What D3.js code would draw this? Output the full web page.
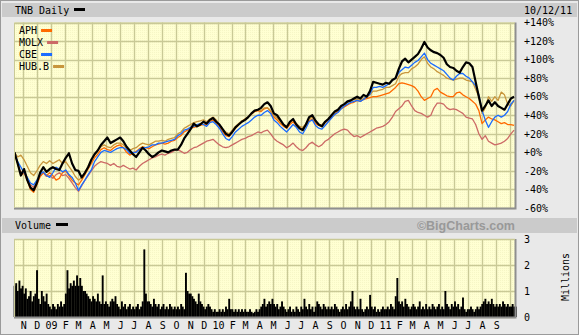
<!DOCTYPE html>
<html><head><meta charset="utf-8">
<script src="https://cdn.jsdelivr.net/npm/d3@7/dist/d3.min.js"></script>
<style>
body{margin:0;background:#fff}
svg{display:block}
text{font-family:"DejaVu Sans Mono",monospace;font-size:10px;fill:#000}
</style>
</head><body>
<svg id="chart" width="579" height="335"></svg>
<script>
// ---------------- DATA ----------------
const legendNames = ["APH", "MOLX", "CBE", "HUB.B"];
const mainName = "TNB Daily";
const dateLabel = "10/12/11";
const percentTicks = [140, 120, 100, 80, 60, 40, 20, 0, -20, -40, -60];
const volumeTicks = [0, 1, 2, 3];

// weekly % change since 10/12/08 (one value per week, first week 10/13/08)
const tnb = [
  0,-12,-25,-18,-30,-38,-41,-33,-22,-16,
  -21,-18,-16,-18,-19,-12,-6,-1,-12,-19,
  -20,-27,-22,-16,-8,-2,2,8,12,16,
  10,12,14,16,12,6,2,-2,-5,0,
  5,2,-2,-5,-3,0,2,1,0,2,
  3,3,8,15,20,25,31,28,30,33,
  31,35,37,33,30,25,20,18,22,27,
  30,33,35,38,42,45,46,48,52,54,
  50,42,40,35,30,27,33,36,30,26,
  24,30,38,40,34,30,28,33,36,40,
  44,46,50,52,55,56,58,60,58,62,
  60,66,76,75,74,73,75,74,78,80,
  90,98,101,97,100,103,106,112,119,113,
  110,108,107,105,102,95,92,91,88,86,
  92,97,96,92,76,60,45,50,56,50,
  54,50,48,46,52,58,60
];
const aph = [
  0,-12,-25,-22,-30,-40,-43,-35,-26,-22,
  -25,-22,-25,-30,-28,-22,-20,-25,-30,-33,
  -35,-30,-24,-18,-12,-6,-2,3,5,3,
  2,5,7,8,5,0,-3,-1,1,4,
  6,5,4,6,8,9,10,9,10,12,
  13,16,18,22,24,26,27,28,29,30,
  30,33,35,32,28,22,18,17,22,26,
  30,33,36,38,41,44,45,44,47,48,
  44,38,35,31,28,26,30,33,29,26,
  25,29,34,36,31,29,28,32,35,38,
  41,44,47,49,51,53,54,56,55,57,
  58,59,60,60,61,62,63,64,67,70,
  74,75,74,73,72,70,66,60,56,58,
  60,67,69,65,63,61,60,60,64,65,
  62,60,58,55,52,45,31,35,38,36,
  35,33,31,32,30,30,29
];
const molx = [
  0,-12,-22,-20,-28,-35,-38,-32,-26,-22,
  -26,-25,-28,-24,-22,-25,-24,-28,-33,-38,
  -42,-36,-30,-25,-20,-15,-12,-10,-11,-12,
  -14,-12,-15,-16,-14,-16,-18,-17,-19,-15,
  -12,-10,-8,-6,-5,-3,-2,-3,-1,0,
  2,3,1,-1,0,3,5,6,8,10,
  12,13,14,11,8,6,5,6,8,10,
  12,14,15,17,18,20,22,21,23,24,
  20,15,12,10,8,5,7,10,6,3,
  2,5,9,11,8,6,8,12,14,17,
  20,22,24,25,24,20,17,18,16,18,
  20,22,24,26,27,28,30,33,38,44,
  47,50,55,56,50,45,43,42,40,38,
  40,48,53,53,52,48,46,47,46,44,
  42,38,37,36,30,20,14,18,12,10,
  8,9,10,12,15,20,24
];
const cbe = [
  0,-10,-16,-22,-27,-33,-35,-30,-24,-21,
  -25,-27,-22,-16,-18,-21,-19,-24,-27,-33,
  -41,-35,-30,-24,-19,-10,-5,0,2,1,
  0,2,4,5,5,3,-1,0,0,3,
  5,5,6,8,8,10,10,11,12,13,
  14,18,20,24,25,27,28,30,31,30,
  28,32,33,30,26,20,15,13,17,22,
  25,28,30,32,35,38,40,40,43,45,
  42,35,32,28,25,22,26,30,27,22,
  20,26,33,35,29,26,25,29,33,37,
  41,43,47,50,52,54,55,56,55,57,
  60,63,70,70,71,70,72,74,78,80,
  86,89,92,91,94,97,99,103,107,100,
  96,94,92,90,88,84,80,78,82,85,
  85,82,80,76,72,62,45,35,27,33,
  38,40,38,40,44,52,56
];
const hubb = [
  0,-5,-3,-8,-15,-22,-25,-20,-14,-10,
  -12,-9,-12,-10,-8,-12,-10,-15,-20,-26,
  -30,-27,-22,-15,-8,-3,2,6,8,6,
  5,8,10,10,8,4,2,4,5,8,
  10,9,8,10,12,12,13,12,14,15,
  16,20,22,26,28,30,32,33,34,35,
  33,36,38,35,30,25,22,20,24,28,
  31,34,36,38,42,45,46,45,48,48,
  45,40,37,33,30,28,32,35,31,28,
  27,31,36,38,33,30,30,33,36,40,
  43,46,49,52,54,55,57,57,56,58,
  60,62,66,66,67,68,70,70,72,74,
  82,85,86,86,90,92,95,100,103,96,
  92,90,87,85,83,80,79,78,79,80,
  80,78,77,76,68,60,42,48,60,55,
  60,56,65,62,52,50,56
];
// TNB volume, millions (two values per week)
const volume = [
  1.2,1.3,1.0,1.4,1.1,1.2,
  0.9,1.1,0.7,0.8,1.0,0.6,0.8,0.9,
  1.8,0.7,0.5,1.0,0.8,0.6,0.9,0.5,0.4,
  0.3,0.5,0.4,0.3,0.5,0.4,0.6,0.4,0.5,
  0.9,1.8,1.1,1.3,1.2,1.4,1.2,1.6,
  1.2,1.5,1.2,1.0,1.0,0.9,0.8,0.7,0.6,
  0.8,0.7,0.6,0.9,0.6,0.5,1.6,0.5,0.6,
  0.5,0.4,0.6,0.7,0.6,0.8,0.5,0.4,
  0.3,0.6,0.4,0.5,0.3,0.4,0.5,0.3,0.4,
  0.3,0.4,0.5,0.3,0.4,0.6,2.6,0.9,0.6,
  0.6,0.5,0.4,0.7,0.5,0.4,0.5,0.3,0.4,
  0.5,0.3,0.4,0.3,0.5,0.4,0.3,0.4,
  0.3,0.4,0.3,0.5,0.4,0.3,1.7,1.0,0.9,
  0.9,0.8,0.7,0.6,0.5,0.9,0.6,0.5,0.4,
  0.3,0.4,0.5,0.4,0.3,0.2,0.3,0.2,
  0.2,0.3,0.2,0.3,0.2,0.4,0.3,0.7,0.3,
  0.3,0.2,0.3,0.2,0.3,0.2,0.3,0.2,
  0.3,0.2,0.2,0.3,0.2,0.15,0.2,0.3,0.2,
  0.3,0.4,0.5,0.7,0.4,0.5,0.6,0.5,0.7,
  0.5,0.4,0.5,0.3,0.4,0.6,0.4,0.3,0.2,
  0.3,0.4,0.2,0.3,0.2,0.4,0.3,0.2,
  0.4,0.3,0.7,0.4,0.3,0.5,0.3,0.4,0.2,
  0.4,0.6,0.5,0.4,0.3,0.5,0.4,0.3,0.4,
  0.3,0.4,0.3,0.5,0.4,0.3,0.2,0.3,
  0.4,0.3,0.5,0.3,0.4,0.6,1.0,0.4,0.3,
  0.4,0.3,0.7,0.3,0.2,0.3,0.4,0.3,0.85,
  0.4,0.3,0.4,0.2,0.3,0.2,0.3,0.4,0.3,
  0.3,0.4,0.3,0.5,0.4,0.3,0.8,1.5,0.6,
  0.5,0.6,0.4,0.7,0.5,0.4,0.3,0.4,
  0.5,0.4,0.3,0.4,0.6,0.3,0.4,0.3,0.5,
  0.3,0.4,0.3,0.5,0.4,0.3,0.4,0.5,0.3,
  0.4,0.3,1.0,0.5,0.4,0.3,0.5,0.4,
  0.6,0.4,0.5,0.3,0.4,0.75,0.3,0.2,0.3,
  0.3,0.4,0.3,0.2,0.3,0.4,0.3,0.4,0.5,
  0.6,0.7,0.5,0.6,0.5,0.7,0.5,0.4,0.5,
  0.4,0.5,0.4,0.6,0.5,0.4,0.5,0.4,0.4,
  0.5,0.4,0.4
];

// ---------------- STYLE ----------------
const colorOf = {"APH":"#ff6a00","MOLX":"#cc6a66","CBE":"#1a6cff","HUB.B":"#c8963c","TNB":"#000"};
const seriesOf = {"APH":aph,"MOLX":molx,"CBE":cbe,"HUB.B":hubb,"TNB":tnb};
const drawOrder = ["MOLX","APH","HUB.B","CBE","TNB"];
const gridColor = "#c9c996";

const svg = d3.select("#chart");
const W = 579, H = 335;
const P = {l:14, r:515, t:22.5, b:208};      // price panel
const V = {l:14, r:515, t:239, b:317};       // volume panel

const startDate = new Date(2008, 9, 12), endDate = new Date(2011, 9, 12);
const x = d3.scaleTime().domain([startDate, endDate]).range([P.l, P.r]);
const y = d3.scaleLinear().domain([-60, 140]).range([P.b, P.t]);
const yv = d3.scaleLinear().domain([0, 3]).range([V.b, V.t]);

const weekStart = new Date(2008, 9, 13);
const weekDate = i => d3.timeDay.offset(weekStart, 7 * i);
const volDate = j => new Date(weekStart.getTime() + j * 3.5 * 864e5);

// page background
svg.append("rect").attr("x",0.5).attr("y",0.5).attr("width",W-1).attr("height",H-1)
  .attr("fill","#e9e9e9").attr("stroke","#9a9a9a");
// header bars
svg.append("rect").attr("x",2).attr("y",3).attr("width",W-4).attr("height",14).attr("fill","#cbcbcb");
svg.append("rect").attr("x",2).attr("y",218).attr("width",W-4).attr("height",15).attr("fill","#cbcbcb");

// pattern
const defs = svg.append("defs");
const pat = defs.append("pattern").attr("id","dots").attr("width",2).attr("height",2).attr("patternUnits","userSpaceOnUse");
pat.append("rect").attr("width",2).attr("height",2).attr("fill","#ffffd2");
pat.append("rect").attr("width",1).attr("height",1).attr("fill","#f6f6c6");
defs.append("clipPath").attr("id","clipP").append("rect")
  .attr("x",P.l).attr("y",P.t-1).attr("width",P.r-P.l).attr("height",P.b-P.t+2);

function panel(b){
  svg.append("rect").attr("x",b.l).attr("y",b.t).attr("width",b.r-b.l).attr("height",b.b-b.t)
    .attr("fill","url(#dots)");
}
panel(P); panel(V);

const monthGrid = d3.timeMonth.range(new Date(2008,10,1), new Date(2011,9,2));
const monthLabels = d3.timeMonth.range(new Date(2008,10,1), new Date(2011,8,2));

// vertical grid
[P, V].forEach(b => {
  svg.append("g").selectAll("line").data(monthGrid).join("line")
    .attr("x1",d=>Math.round(x(d))+0.5).attr("x2",d=>Math.round(x(d))+0.5)
    .attr("y1",b.t).attr("y2",b.b).attr("stroke",gridColor).attr("stroke-width",1.4);
});
// horizontal grid
svg.append("g").selectAll("line").data(percentTicks).join("line")
  .attr("x1",P.l).attr("x2",P.r).attr("y1",d=>Math.round(y(d))+0.5).attr("y2",d=>Math.round(y(d))+0.5)
  .attr("stroke",gridColor).attr("stroke-width",1.4);
svg.append("g").selectAll("line").data(volumeTicks).join("line")
  .attr("x1",V.l).attr("x2",V.r).attr("y1",d=>Math.round(yv(d))+0.5).attr("y2",d=>Math.round(yv(d))+0.5)
  .attr("stroke",gridColor).attr("stroke-width",1.4);

// volume bars
const bw = x(volDate(1)) - x(volDate(0));
svg.append("g").selectAll("rect").data(volume).join("rect")
  .attr("x",(d,j)=>x(volDate(j)) - bw/2)
  .attr("width",bw+0.3)
  .attr("y",d=>yv(d)).attr("height",d=>yv(0)-yv(d)).attr("fill","#000");

// lines
const line = d3.line().x((d,i)=>x(weekDate(i))).y(d=>y(d));
const gl = svg.append("g").attr("clip-path","url(#clipP)");
drawOrder.forEach(n => {
  gl.append("path").datum(seriesOf[n]).attr("d",line).attr("fill","none")
    .attr("stroke",colorOf[n]).attr("stroke-width", n==="TNB" ? 2.2 : 1.3)
    .attr("stroke-linejoin","round");
});

// panel shadows
[P, V].forEach(b => {
  svg.append("path").attr("d",`M${b.r+0.5},${b.t} V${b.b+0.5} H${b.l}`)
    .attr("fill","none").attr("stroke","#8f8f8f").attr("stroke-width",2);
  svg.append("path").attr("d",`M${b.l+0.5},${b.b} V${b.t+0.5} H${b.r}`)
    .attr("fill","none").attr("stroke",gridColor).attr("stroke-width",1);
});

// axes
const ax = svg.append("g").attr("transform",`translate(${P.r},0)`)
  .call(d3.axisRight(y).tickValues(percentTicks).tickSize(0).tickPadding(9)
    .tickFormat(d => (d >= 0 ? "+" : "-") + Math.abs(d) + "%"));
ax.select(".domain").remove();
const axv = svg.append("g").attr("transform",`translate(${V.r},0)`)
  .call(d3.axisRight(yv).tickValues(volumeTicks).tickSize(0).tickPadding(9).tickFormat(d3.format("d")));
axv.select(".domain").remove();
const axm = svg.append("g").attr("transform",`translate(0,${V.b})`)
  .call(d3.axisBottom(x).tickValues(monthLabels).tickSize(0).tickPadding(5)
    .tickFormat(d => d.getMonth() === 0 ? d3.timeFormat("%y")(d) : d3.timeFormat("%b")(d).charAt(0)));
axm.select(".domain").remove();
svg.selectAll(".tick text").attr("font-family","DejaVu Sans Mono, monospace").attr("font-size",10).attr("fill","#000");

// titles
svg.append("text").attr("x",15).attr("y",14).text(mainName);
svg.append("rect").attr("x",74).attr("y",8).attr("width",11).attr("height",3).attr("fill","#000");
svg.append("text").attr("x",524).attr("y",14).text(dateLabel);
svg.append("text").attr("x",15).attr("y",229).text("Volume");
svg.append("rect").attr("x",56).attr("y",223).attr("width",12).attr("height",3).attr("fill","#000");
svg.append("text").attr("x",515).attr("y",230).attr("text-anchor","end")
  .style("font-family","Liberation Sans, Arial, sans-serif").style("font-weight","bold")
  .style("font-size","12.5px").style("fill","#999999").text("\u00A9BigCharts.com");
svg.append("text").attr("transform","translate(569,277) rotate(-90)").attr("text-anchor","middle").text("Millions");

// legend
const lg = svg.append("g");
legendNames.forEach((n,k) => {
  const ty = 34 + k*12;
  lg.append("text").attr("x",19).attr("y",ty).text(n);
  const w = n.length * 6.02;
  lg.append("rect").attr("x",19 + w + 4).attr("y",ty-5).attr("width",11).attr("height",3).attr("fill",colorOf[n]);
});
</script>
</body></html>
